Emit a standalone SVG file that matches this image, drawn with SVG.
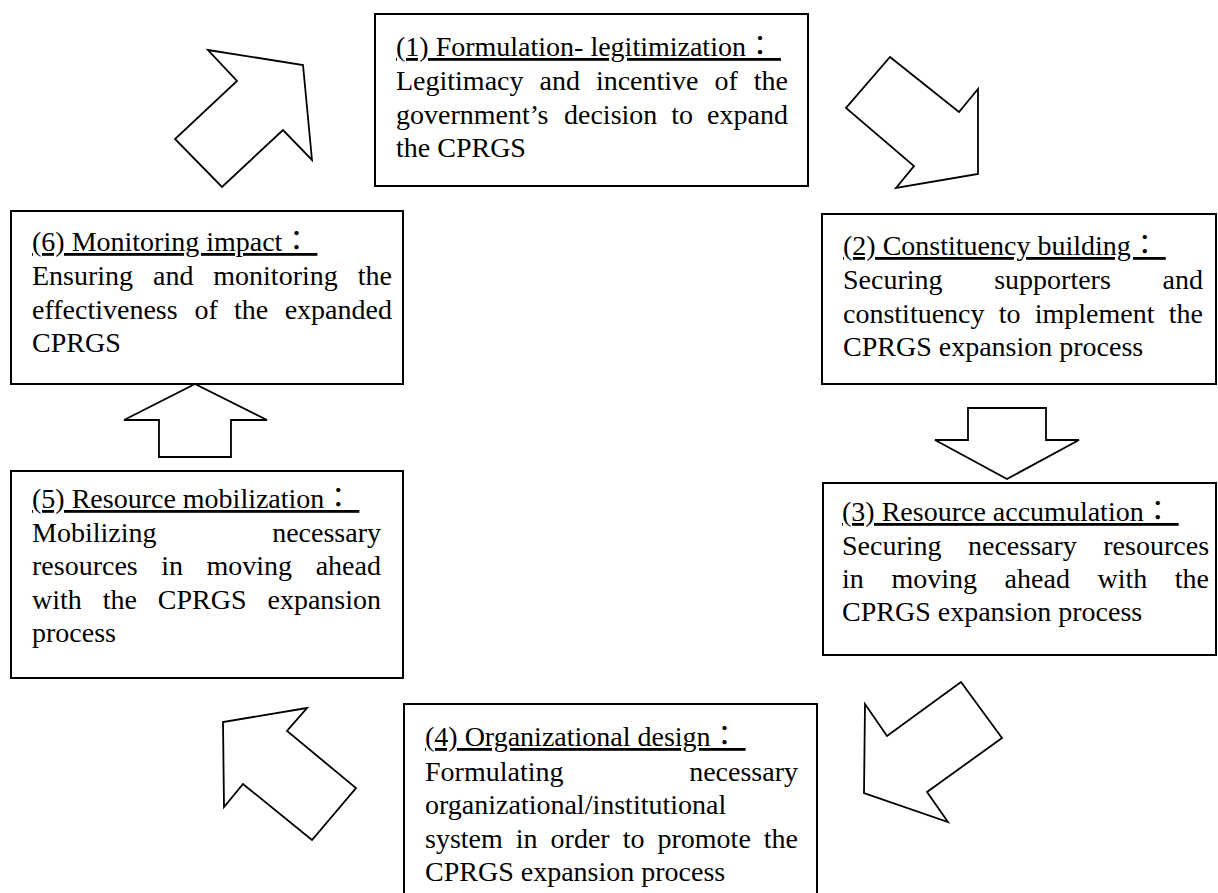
<svg xmlns="http://www.w3.org/2000/svg" width="1218" height="893" viewBox="0 0 1218 893">
<style>
.box{fill:#fff;stroke:#000;stroke-width:2}
.arr{fill:#fff;stroke:#000;stroke-width:1.8;stroke-linejoin:miter}
text{font-family:"Liberation Serif","Noto Sans CJK TC",serif;font-size:28px;fill:#000}
.h{text-decoration:underline}
</style>
<rect width="1218" height="893" fill="#fff"/>
<g id="connectors">
<polygon class="arr" points="208,50 303,65 312,160 283,130 222,187 175,139 237,81"/>
<polygon class="arr" points="890,57 959,112 978,89 978,174 896,188 914,166 846,108"/>
<polygon class="arr" points="968,408 1046,408 1046,440 1079,440 1007,479 935,440 968,440"/>
<polygon class="arr" points="961,682 1002,738 927,792 948,822 864,793 865,704 887,736"/>
<polygon class="arr" points="307,708 223,722 224,807 243,784 312,840 356,788 287,731"/>
<polygon class="arr" points="195,384 267,420 231,420 231,457 159,457 159,420 124,420"/>
</g>
<g id="node1">
<rect class="box" x="375" y="14" width="433" height="172"/>
<text class="h" x="396" y="56">(1) Formulation- legitimization：&#160;</text>
<text y="90"><tspan x="396">Legitimacy</tspan><tspan x="539.5">and</tspan><tspan x="595.9">incentive</tspan><tspan x="714.5">of</tspan><tspan x="753.8">the</tspan></text>
<text y="123.5"><tspan x="396">government’s</tspan><tspan x="564">decision</tspan><tspan x="671.3">to</tspan><tspan x="707.1">expand</tspan></text>
<text x="396" y="157">the CPRGS</text>
</g>
<g id="node2">
<rect class="box" x="822" y="214" width="394" height="170"/>
<text class="h" x="843" y="255">(2) Constituency building：&#160;</text>
<text y="289"><tspan x="843">Securing</tspan><tspan x="994.2">supporters</tspan><tspan x="1162.6">and</tspan></text>
<text y="322.5"><tspan x="843">constituency</tspan><tspan x="998.7">to</tspan><tspan x="1034.7">implement</tspan><tspan x="1168.8">the</tspan></text>
<text x="843" y="356">CPRGS expansion process</text>
</g>
<g id="node3">
<rect class="box" x="823" y="483" width="393" height="172"/>
<text class="h" x="842" y="521">(3) Resource accumulation：&#160;</text>
<text y="555"><tspan x="842">Securing</tspan><tspan x="968">necessary</tspan><tspan x="1103.3">resources</tspan></text>
<text y="588"><tspan x="842">in</tspan><tspan x="891.4">moving</tspan><tspan x="1004.6">ahead</tspan><tspan x="1097.5">with</tspan><tspan x="1174.8">the</tspan></text>
<text x="842" y="621">CPRGS expansion process</text>
</g>
<g id="node4">
<rect class="box" x="404" y="704" width="413" height="200"/>
<text class="h" x="425" y="746">(4) Organizational design：&#160;</text>
<text y="781"><tspan x="425">Formulating</tspan><tspan x="689.2">necessary</tspan></text>
<text x="425" y="814">organizational/institutional</text>
<text y="847.5"><tspan x="425">system</tspan><tspan x="515.8">in</tspan><tspan x="550.6">order</tspan><tspan x="622.7">to</tspan><tspan x="657.5">promote</tspan><tspan x="763.8">the</tspan></text>
<text x="425" y="881">CPRGS expansion process</text>
</g>
<g id="node5">
<rect class="box" x="11" y="471" width="392" height="207"/>
<text class="h" x="32" y="508">(5) Resource mobilization：&#160;</text>
<text y="542"><tspan x="32">Mobilizing</tspan><tspan x="272.2">necessary</tspan></text>
<text y="575"><tspan x="32">resources</tspan><tspan x="161.2">in</tspan><tspan x="206.5">moving</tspan><tspan x="315.7">ahead</tspan></text>
<text y="608.5"><tspan x="32">with</tspan><tspan x="102.7">the</tspan><tspan x="157.8">CPRGS</tspan><tspan x="267.5">expansion</tspan></text>
<text x="32" y="642">process</text>
</g>
<g id="node6">
<rect class="box" x="11" y="211" width="392" height="173"/>
<text class="h" x="32" y="251">(6) Monitoring impact：&#160;</text>
<text y="285"><tspan x="32">Ensuring</tspan><tspan x="153">and</tspan><tspan x="213.3">monitoring</tspan><tspan x="357.8">the</tspan></text>
<text y="318.5"><tspan x="32">effectiveness</tspan><tspan x="194.5">of</tspan><tspan x="234.1">the</tspan><tspan x="284.7">expanded</tspan></text>
<text x="32" y="352">CPRGS</text>
</g>
</svg>
